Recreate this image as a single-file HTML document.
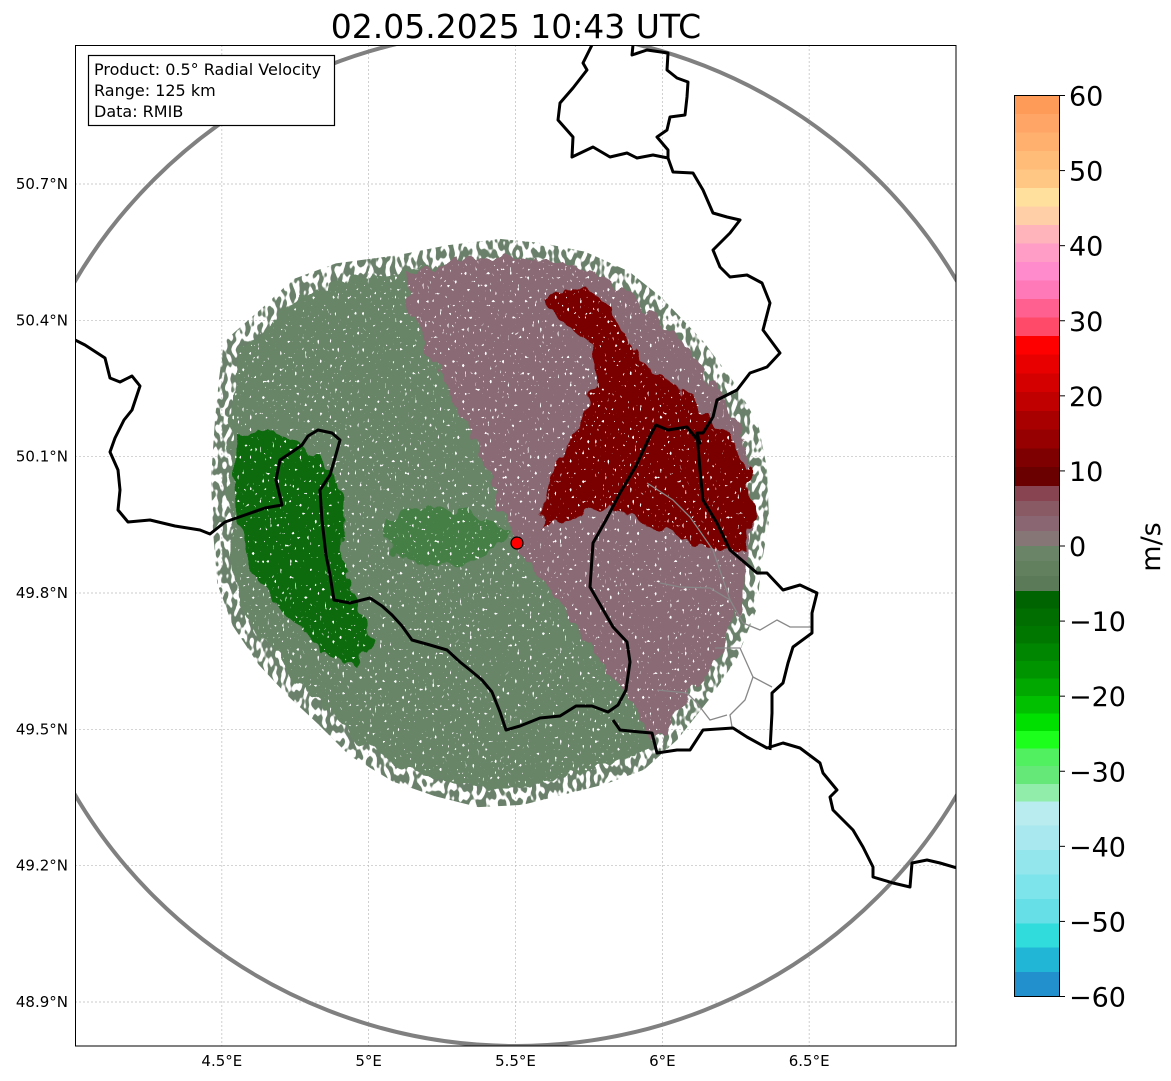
<!DOCTYPE html>
<html><head><meta charset="utf-8">
<style>
html,body{margin:0;padding:0;background:#fff;}
body{width:1171px;height:1081px;position:relative;overflow:hidden;font-family:"DejaVu Sans","Liberation Sans",sans-serif;}
svg{position:absolute;left:0;top:0;}
</style></head>
<body>
<svg id="chart" width="1171" height="1081" viewBox="0 0 1171 1081">
<defs>
  <clipPath id="mapclip"><rect x="75" y="45" width="881" height="1001"/></clipPath>
  <filter id="rough" x="-10%" y="-10%" width="120%" height="120%">
    <feTurbulence type="fractalNoise" baseFrequency="0.08 0.05" numOctaves="2" seed="3" result="n"/>
    <feDisplacementMap in="SourceGraphic" in2="n" scale="18" xChannelSelector="R" yChannelSelector="G"/>
  </filter>
  <filter id="speck" x="-10%" y="-10%" width="120%" height="120%">
    <feTurbulence type="fractalNoise" baseFrequency="0.22 0.12" numOctaves="1" seed="7" result="n"/>
    <feColorMatrix in="n" type="matrix" values="0 0 0 0 0  0 0 0 0 0  0 0 0 0 0  0 0 0 -14 7.6" result="m"/>
    <feComposite in="SourceGraphic" in2="m" operator="in"/>
  </filter>
  <filter id="holes" x="-10%" y="-10%" width="120%" height="120%">
    <feTurbulence type="fractalNoise" baseFrequency="0.4 0.25" numOctaves="1" seed="11" result="n"/>
    <feColorMatrix in="n" type="matrix" values="0 0 0 0 0  0 0 0 0 0  0 0 0 0 0  0 0 0 22 -15" result="m"/>
    <feComposite in="SourceGraphic" in2="m" operator="in"/>
  </filter>
  <linearGradient id="cbgrad" x1="0" y1="0" x2="0" y2="1"></linearGradient>
</defs>

<text x="516" y="38" text-anchor="middle" font-size="33" fill="#000">02.05.2025 10:43 UTC</text>

<g clip-path="url(#mapclip)">
  <g id="grid"></g>

  <g filter="url(#speck)">
    <path fill="none" stroke="#6a806a" stroke-width="34" d="M240,350 L272,322 L302,294 L340,280 L400,272 L450,262 L500,256 L540,260 L580,268 L620,286 L650,310 L690,352 L720,392 L742,430 L750,470 L752,520 L745,560 L740,605 L722,650 L695,690 L665,728 L635,755 L600,768 L560,778 L520,788 L480,790 L440,780 L400,766 L360,742 L330,712 L300,684 L272,654 L248,618 L234,580 L230,530 L228,480 L232,420 L236,380 Z"/>
  </g>
  <g filter="url(#rough)">
    <path fill="#678567" d="M240,350 L272,322 L302,294 L340,280 L400,272 L450,262 L500,256 L540,260 L580,268 L620,286 L650,310 L690,352 L720,392 L742,430 L750,470 L752,520 L745,560 L740,605 L722,650 L695,690 L665,728 L635,755 L600,768 L560,778 L520,788 L480,790 L440,780 L400,766 L360,742 L330,712 L300,684 L272,654 L248,618 L234,580 L230,530 L228,480 L232,420 L236,380 Z"/>
    <path fill="#8a6a74" d="M405,275 L450,262 L500,256 L540,260 L580,268 L620,286 L650,310 L690,352 L720,392 L742,430 L750,470 L752,520 L745,560 L740,605 L722,650 L695,690 L665,728 L650,740 L630,700 L600,660 L560,605 L517,548 L500,505 L478,445 L452,395 L428,348 L410,310 Z"/>
    <path fill="#7a0305" d="M545,298 L570,286 L600,298 L622,325 L640,360 L672,382 L702,412 L730,438 L750,470 L752,520 L742,550 L705,548 L672,532 L640,520 L605,508 L570,520 L540,528 L548,485 L566,448 L585,410 L600,375 L590,342 L560,322 Z"/>
    <path fill="#0c6a0c" d="M238,435 L268,425 L300,445 L330,470 L345,510 L342,560 L358,600 L375,640 L355,665 L322,650 L295,625 L268,595 L248,565 L236,520 L234,470 Z"/>
    <path fill="#2a7a2a" opacity="0.55" d="M385,520 L430,505 L480,515 L510,535 L480,560 L430,565 L390,555 Z"/>
  </g>
  <g filter="url(#holes)">
    <path fill="#fff" d="M240,350 L302,294 L400,272 L500,256 L580,268 L650,310 L720,392 L750,470 L745,560 L722,650 L665,728 L600,768 L520,788 L440,780 L360,742 L300,684 L248,618 L230,530 L232,420 Z"/>
  </g>

  <ellipse cx="516" cy="538" rx="511" ry="508" fill="none" stroke="#808080" stroke-width="4"/>

  <g fill="none" stroke="#888" stroke-width="1.3">
    <path d="M743,623 L760,630 L777,620 L790,627 L812,627"/>
    <path d="M715,648 L740,648 L753,677 L772,687"/>
    <path d="M753,677 L745,700 L730,715 L732,727"/>
    <path d="M657,690 L687,693 L697,703 L710,720 L727,715"/>
    <path d="M660,583 L680,587 L710,588 L730,600 L743,623"/>
    <path d="M647,483 L673,500 L690,517 L713,550 L730,600"/>
  </g>

  <g fill="none" stroke="#000" stroke-width="3" stroke-linejoin="round">
    <path d="M75,340 L85,345 L105,358 L110,378 L120,382 L132,376 L140,386 L132,410 L124,420 L115,438 L110,452 L118,470 L120,490 L118,510 L128,522 L150,520 L175,526 L200,530 L210,534 L225,522 L245,515 L265,508 L282,505 L276,480 L280,460 L292,452 L302,445 L308,436 L318,430 L332,433 L340,440 L335,458 L330,475 L320,490 L322,520 L326,555 L330,575 L334,600 L350,603 L370,598 L382,606 L392,615 L402,626 L412,640 L430,645 L447,650 L460,662 L470,670 L482,680 L492,692 L500,712 L506,730 L520,726 L540,718 L560,716 L576,706 L592,706 L608,712 L618,705 L626,690 L630,662 L627,642 L613,627 L590,587 L593,543 L606,520 L620,493 L636,466 L650,436 L656,425 L668,430 L687,427 L700,443 L697,433 L703,433 L713,417 L717,400 L737,390 L750,373 L767,367 L780,353 L763,330 L770,303 L762,283 L747,275 L730,277 L720,267 L713,250 L730,233 L740,220 L727,217 L713,213 L703,190 L693,173 L673,172 L668,158 L668,150 L657,137 L667,130 L670,117 L685,115 L687,97 L688,82 L677,78 L667,70 L668,53 L647,50 L632,55 L633,45"/>
    <path d="M592,45 L583,63 L587,70 L573,88 L560,103 L558,120 L573,137 L572,157 L593,147 L610,157 L627,153 L637,158 L653,155 L668,158"/>
    <path d="M697,433 L700,470 L703,500 L717,523 L730,550 L757,573 L767,573 L783,590 L800,585 L817,593 L812,613 L812,633 L793,647 L788,663 L783,683 L772,693 L772,713 L770,750"/>
    <path d="M613,720 L620,730 L640,732 L652,733 L657,753 L677,750 L690,750 L703,730 L733,728 L747,737 L767,748 L783,743 L800,748 L820,763 L823,773 L837,790 L830,797 L833,810 L853,830 L863,847 L873,867 L873,877 L893,883 L910,887 L912,863 L927,860 L940,863 L957,868"/>
  </g>

  <circle cx="517" cy="543" r="6" fill="#ff0000" stroke="#000" stroke-width="1.2"/>

  <g>
    <rect x="88.5" y="55.5" width="246" height="70" fill="#fff" stroke="#000" stroke-width="1.2"/>
    <text x="94" y="75" font-size="16" fill="#000">Product: 0.5° Radial Velocity</text>
    <text x="94" y="96" font-size="16" fill="#000">Range: 125 km</text>
    <text x="94" y="117" font-size="16" fill="#000">Data: RMIB</text>
  </g>
</g>
<rect x="75.5" y="45.5" width="880.5" height="1000.5" fill="none" stroke="#000" stroke-width="1"/>
<g id="axes"></g>

<g>
  <rect id="cbrect" x="1014.5" y="95.5" width="45" height="901" fill="url(#cbgrad)" stroke="#000" stroke-width="1"/>
  <g id="cbticks"></g>
  <text x="0" y="0" font-size="27" transform="translate(1160,547) rotate(-90)" text-anchor="middle">m/s</text>
</g>
</svg>
<script>
const lonTicks = [4.5, 5.0, 5.5, 6.0, 6.5];
const lonLabels = ["4.5°E", "5°E", "5.5°E", "6°E", "6.5°E"];
const latTicks = [50.7, 50.4, 50.1, 49.8, 49.5, 49.2, 48.9];
const latLabels = ["50.7°N", "50.4°N", "50.1°N", "49.8°N", "49.5°N", "49.2°N", "48.9°N"];
const cbTicks = [60, 50, 40, 30, 20, 10, 0, -10, -20, -30, -40, -50, -60];
const cbLabels = ["60", "50", "40", "30", "20", "10", "0", "\u221210", "\u221220", "\u221230", "\u221240", "\u221250", "\u221260"];
const cbSegValues = [60, 28, 8, 0, -6, -34, -60];
const cbSegColors = [
  ["#ff9b58","#ffa565","#ffb06e","#ffbc78","#ffc783","#ffe09c","#ffd0a8","#ffb4bc","#ff9dc6","#ff8acc","#ff78b8","#ff6090","#ff4a6a"],
  ["#ff0000","#e80000","#d40000","#c00000","#a80000","#960000","#7f0000","#6a0000"],
  ["#884450","#8a5a64","#8a6672","#867676"],
  ["#6a8468","#62805e","#5a7a58"],
  ["#006400","#006e00","#007800","#008600","#009400","#00a800","#00c000","#00e000","#1cff1c","#50f060","#66e878","#90eeaa"],
  ["#b8ecee","#a8e8ee","#92e6ec","#7ce4ea","#66e0e6","#30dcdc","#22b6d6","#2290cc"]
];

const X0 = 75, X1 = 956, LON0 = 4.0, LON1 = 7.0;
function xScale(lon){ return X0 + (lon - LON0) / (LON1 - LON0) * (X1 - X0); }
function yScale(lat){ return 1002 + (lat - 48.9) / (50.7 - 48.9) * (184 - 1002); }
function cbScale(v){ return 95.5 + (60 - v) / 120 * 901; }

const NS = "http://www.w3.org/2000/svg";
const grid = document.getElementById('grid');
const axes = document.getElementById('axes');
function mk(tag, attrs, parent){ const e = document.createElementNS(NS, tag); for (const k in attrs) e.setAttribute(k, attrs[k]); parent.appendChild(e); return e; }

lonTicks.forEach((lon, i) => {
  const x = xScale(lon);
  const gl = mk('line', {x1:x, y1:45, x2:x, y2:1046, stroke:'#bbb', 'stroke-width':0.7, 'stroke-dasharray':'2,2'}, grid);
  
  
  const t = mk('text', {x:x, y:1066, 'font-size':15, 'text-anchor':'middle', fill:'#000'}, axes);
  t.textContent = lonLabels[i];
  
  
});
latTicks.forEach((lat, i) => {
  const y = yScale(lat);
  const gl = mk('line', {x1:75, y1:y, x2:956, y2:y, stroke:'#bbb', 'stroke-width':0.7, 'stroke-dasharray':'2,2'}, grid);
  
  
  const t = mk('text', {x:68, y:y+5, 'font-size':15, 'text-anchor':'end', fill:'#000'}, axes);
  t.textContent = latLabels[i];
  
  
});

const grad = document.getElementById('cbgrad');
cbSegColors.forEach((cols, s) => {
  const v0 = cbSegValues[s], v1 = cbSegValues[s+1];
  const step = (v0 - v1) / cols.length;
  cols.forEach((c, j) => {
    const a = (cbScale(v0 - j*step) - 95.5) / 901, b = (cbScale(v0 - (j+1)*step) - 95.5) / 901;
    mk('stop', {offset:a, 'stop-color':c}, grad);
    mk('stop', {offset:b, 'stop-color':c}, grad);
  });
});
const cbt = document.getElementById('cbticks');
cbTicks.forEach((v, i) => {
  const y = cbScale(v);
  const tk = mk('line', {x1:1059.5, y1:y, x2:1065, y2:y, stroke:'#000', 'stroke-width':1}, cbt);
  
  
  const t = mk('text', {x:1069, y:y+10, 'font-size':27, fill:'#000'}, cbt);
  t.textContent = cbLabels[i];
  
  
});
</script>
</body></html>
